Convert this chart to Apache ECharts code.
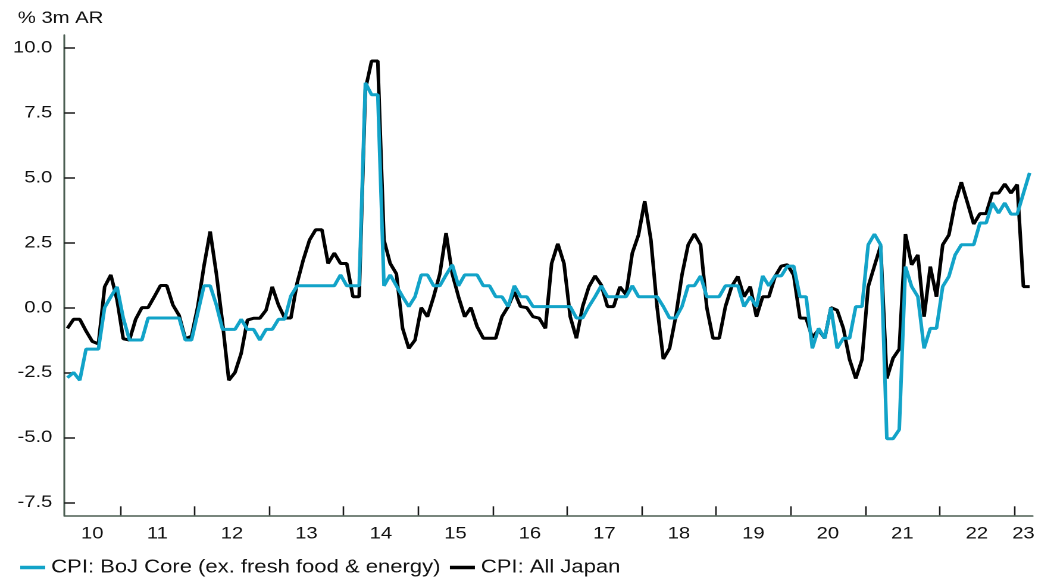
<!DOCTYPE html>
<html>
<head>
<meta charset="utf-8">
<script src="https://cdn.jsdelivr.net/npm/echarts@6/dist/echarts.min.js"></script>
<style>
  html, body { margin: 0; padding: 0; background: #fff; overflow: hidden; }
  /* the source picture is stretched sideways, so draw narrow and widen */
  #main { width: 883px; height: 582px; transform: scaleX(1.1903); transform-origin: 0 0; }
</style>
</head>
<body>
<div id="main"></div>
<script>
// months counted from Jan 2010; first value is Apr 2010, last is Mar 2023
const firstMonth = 3;

// CPI: BoJ Core (ex. fresh food & energy), % 3m AR
const coreCPI = [
  -2.7, -2.5, -2.8, -1.6, -1.6, -1.6, 0.0, 0.42, 0.8,                      // 2010 Apr-Dec
  -0.4, -1.25, -1.25, -1.25, -0.4, -0.4, -0.4, -0.4, -0.4, -0.4, -1.25, -1.25, // 2011
  -0.2, 0.84, 0.84, 0.1, -0.84, -0.84, -0.84, -0.45, -0.84, -0.84, -1.25, -0.84, // 2012
  -0.84, -0.45, -0.45, 0.45, 0.84, 0.84, 0.84, 0.84, 0.84, 0.84, 0.84, 1.26, // 2013
  0.84, 0.84, 0.84, 8.66, 8.2, 8.2, 0.84, 1.26, 0.84, 0.42, 0.04, 0.42,    // 2014
  1.26, 1.26, 0.84, 0.84, 1.26, 1.65, 0.84, 1.26, 1.26, 1.26, 0.84, 0.84,  // 2015
  0.42, 0.42, 0.04, 0.84, 0.42, 0.42, 0.04, 0.04, 0.04, 0.04, 0.04, 0.04,  // 2016
  0.04, -0.4, -0.4, 0.04, 0.42, 0.84, 0.42, 0.42, 0.42, 0.42, 0.84, 0.42,  // 2017
  0.42, 0.42, 0.42, 0.04, -0.4, -0.4, 0.04, 0.84, 0.84, 1.22, 0.42, 0.42,  // 2018
  0.42, 0.84, 0.84, 0.84, 0.04, 0.42, 0.04, 1.22, 0.84, 1.22, 1.22, 1.6,   // 2019
  1.6, 0.42, 0.42, -1.57, -0.8, -1.18, 0.0, -1.57, -1.18, -1.18, 0.04, 0.04, // 2020
  2.42, 2.83, 2.42, -5.05, -5.05, -4.7, 1.58, 0.81, 0.42, -1.57, -0.8, -0.8, // 2021
  0.81, 1.2, 2.03, 2.42, 2.42, 2.42, 3.26, 3.26, 4.03, 3.64, 4.03, 3.6,    // 2022
  3.6, 4.4, 5.19                                                           // 2023 Jan-Mar
];

// CPI: All Japan, % 3m AR
const allCPI = [
  -0.8, -0.45, -0.45, -0.9, -1.3, -1.4, 0.8, 1.26, 0.3,                    // 2010 Apr-Dec
  -1.2, -1.25, -0.45, 0.0, 0.0, 0.42, 0.85, 0.85, 0.1, -0.3, -1.2, -1.1,   // 2011
  0.04, 1.6, 2.93, 1.3, -0.6, -2.8, -2.5, -1.76, -0.48, -0.41, -0.41, -0.1, // 2012
  0.8, 0.1, -0.4, -0.4, 0.94, 1.84, 2.6, 3.0, 3.0, 1.7, 2.1, 1.7,          // 2013
  1.7, 0.42, 0.42, 8.4, 9.5, 9.5, 2.6, 1.7, 1.3, -0.8, -1.57, -1.25,       // 2014
  0.0, -0.35, 0.42, 1.3, 2.87, 1.3, 0.42, -0.35, 0.0, -0.73, -1.18, -1.18, // 2015
  -1.18, -0.35, 0.04, 0.6, 0.04, 0.0, -0.35, -0.41, -0.8, 1.7, 2.46, 1.7,  // 2016
  -0.35, -1.18, 0.04, 0.8, 1.22, 0.87, 0.04, 0.04, 0.8, 0.5, 2.1, 2.8,     // 2017
  4.1, 2.6, 0.0, -1.98, -1.57, -0.35, 1.26, 2.42, 2.84, 2.42, 0.0, -1.18,  // 2018
  -1.18, 0.04, 0.81, 1.2, 0.42, 0.81, -0.35, 0.42, 0.42, 1.2, 1.6, 1.65,   // 2019
  1.25, -0.4, -0.41, -1.15, -0.86, -1.18, 0.0, -0.1, -0.8, -2.0, -2.73, -2.0, // 2020
  0.81, 1.6, 2.38, -2.73, -1.95, -1.6, 2.83, 1.65, 2.03, -0.35, 1.58, 0.42, // 2021
  2.42, 2.8, 4.03, 4.83, 4.03, 3.22, 3.62, 3.62, 4.41, 4.41, 4.76, 4.41,   // 2022
  4.74, 0.81, 0.81                                                         // 2023 Jan-Mar
];

const seriesNames = ['CPI: BoJ Core (ex. fresh food & energy)', 'CPI: All Japan'];

// year boundaries (Jan of 2011..2023) and where the year labels sit
const yearTicks = [12, 24, 36, 48, 60, 72, 84, 96, 108, 120, 132, 144, 156];
const xLabelPos = [7.5, 18, 30, 42, 54, 66, 78, 90, 102, 114, 126, 138, 150, 157.5];
const xLabelText = ['10', '11', '12', '13', '14', '15', '16', '17', '18', '19', '20', '21', '22', '23'];
const yTicks = [-7.5, -5, -2.5, 0, 2.5, 5, 7.5, 10];

const toPoints = arr => arr.map((v, i) => [firstMonth + i + 0.5, v]);

const font = 'Liberation Sans, Arial, sans-serif';
const axisColor = '#4b5e52';

const chart = echarts.init(document.getElementById('main'), null, { devicePixelRatio: 2 });

const option = {
  animation: false,
  title: {
    text: '% 3m AR',
    left: 15,
    top: 10,
    padding: 0,
    textStyle: { fontSize: 17, fontWeight: 'normal', color: '#111', fontFamily: font }
  },
  legend: {
    data: seriesNames,
    left: 17,
    top: 558,
    padding: 0,
    icon: 'rect',
    itemWidth: 21,
    itemHeight: 3.5,
    itemGap: 8,
    textStyle: { fontSize: 18.5, color: '#111', fontFamily: font }
  },
  grid: { left: 54, right: 15.4, top: 35, bottom: 66.7, containLabel: false },
  xAxis: {
    type: 'value',
    min: 3,
    max: 159,
    axisLine: { onZero: false, lineStyle: { color: axisColor, width: 1.5 } },
    axisTick: { inside: true, length: 9, customValues: yearTicks, lineStyle: { color: '#1a1a1a', width: 1.3 } },
    axisLabel: {
      customValues: xLabelPos,
      formatter: v => xLabelText[xLabelPos.indexOf(v)],
      margin: 10,
      fontSize: 17,
      color: '#111',
      fontFamily: font
    },
    splitLine: { show: false }
  },
  yAxis: {
    type: 'value',
    min: -8,
    max: 10.5,
    axisLine: { show: true, onZero: false, lineStyle: { color: axisColor, width: 1.5 } },
    axisTick: { show: true, inside: true, length: 9, customValues: yTicks, lineStyle: { color: '#1a1a1a', width: 1.5 } },
    axisLabel: {
      customValues: yTicks,
      formatter: v => v.toFixed(1),
      margin: 10,
      fontSize: 17,
      color: '#111',
      fontFamily: font
    },
    splitLine: { show: false }
  },
  series: [
    {
      name: seriesNames[1],
      type: 'line',
      data: toPoints(allCPI),
      showSymbol: false,
      lineStyle: { color: '#000', width: 3 },
      itemStyle: { color: '#000' },
      z: 2
    },
    {
      name: seriesNames[0],
      type: 'line',
      data: toPoints(coreCPI),
      showSymbol: false,
      lineStyle: { color: '#12a3c8', width: 3 },
      itemStyle: { color: '#12a3c8' },
      z: 3
    }
  ]
};

chart.setOption(option);
</script>
</body>
</html>
